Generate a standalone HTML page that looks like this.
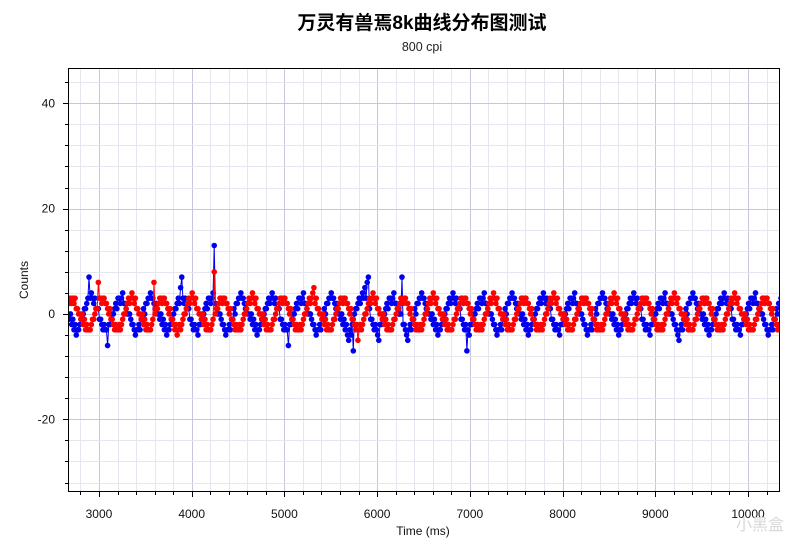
<!DOCTYPE html>
<html><head><meta charset="utf-8"><style>
body{margin:0;background:#fff;}
svg{display:block;font-family:"Liberation Sans","Noto Sans CJK SC",sans-serif;}
</style></head><body>
<svg id="chart" width="800" height="553" viewBox="0 0 800 553" xmlns="http://www.w3.org/2000/svg">
<rect x="0" y="0" width="800" height="553" fill="#fff"/>
<text x="422" y="29" text-anchor="middle" font-size="19" font-weight="bold" fill="#000">万灵有兽焉8k曲线分布图测试</text>
<text x="422" y="51" text-anchor="middle" font-size="12.5" fill="#222">800 cpi</text>
<g id="grid"></g>
<g id="series"></g>
<rect x="68.5" y="68.5" width="711" height="423" fill="none" stroke="#000" stroke-width="1"/>
<g id="axes"></g>
<text x="423" y="535" text-anchor="middle" font-size="12" fill="#111">Time (ms)</text>
<text transform="translate(28,280) rotate(-90)" text-anchor="middle" font-size="12" fill="#111">Counts</text>
<text x="760" y="530" text-anchor="middle" font-size="16" fill="#d8d8d8">小黑盒</text>
</svg>
<script>
const xTicks = [3000,4000,5000,6000,7000,8000,9000,10000];
const yTicks = [-20,0,20,40];
const startTime = 2668;
const stepMs = 12.5;
const blueValues = [
0,-1,0,-2,-1,-3,-2,-4,-3,-3,-2,-1,-1,0,1,1,2,3,7,3,4,3,2,3,1,1,
1,-1,-1,-2,-3,-2,-3,-3,-6,-2,-2,-1,0,0,1,2,1,3,3,2,3,4,2,2,1,0,
0,0,-1,-2,-2,-3,-4,-3,-3,-2,-3,-1,-1,1,0,2,2,3,3,4,3,3,2,1,2,0,
0,-1,0,-2,-1,-3,-2,-4,-3,-3,-2,-1,-1,0,1,1,2,3,2,5,7,3,2,3,1,1,
1,-1,-1,-2,-3,-2,-3,-3,-4,-2,-2,-1,0,0,1,2,1,3,3,2,3,4,13,2,1,0,
0,0,-1,-2,-2,-3,-4,-3,-3,-2,-3,-1,-1,1,0,2,2,3,3,4,3,3,2,1,2,0,
0,-1,0,-2,-1,-3,-2,-4,-3,-3,-2,-1,-1,0,1,1,2,3,2,3,4,3,2,3,1,1,
1,-1,-1,-2,-3,-2,-3,-3,-6,-2,-2,-1,0,0,1,2,1,3,3,2,3,4,2,2,1,0,
0,0,-1,-2,-2,-3,-4,-3,-3,-2,-3,-1,-1,1,0,2,2,3,3,4,3,3,2,1,2,0,
0,-1,0,-2,-1,-3,-2,-4,-5,-3,-4,-2,-7,0,1,1,2,3,2,3,4,3,5,3,6,7,
1,-1,-1,-2,-3,-2,-3,-4,-5,-2,-2,-1,0,0,1,2,1,3,3,2,3,4,2,2,1,0,
0,0,7,-2,-2,-3,-4,-5,-3,-2,-3,-1,-1,1,0,2,2,3,3,4,3,3,2,1,2,0,
0,-1,0,-2,-1,-3,-2,-4,-3,-3,-2,-1,-1,0,1,1,2,3,2,3,4,3,2,3,1,1,
1,-1,-1,-2,-3,-2,-7,-3,-4,-2,-2,-1,0,0,1,2,1,3,3,2,3,4,2,2,1,0,
0,0,-1,-2,-2,-3,-4,-3,-3,-2,-3,-1,-1,1,0,2,2,3,3,4,3,3,2,1,2,0,
0,-1,0,-2,-1,-3,-2,-4,-3,-3,-2,-1,-1,0,1,1,2,3,2,3,4,3,2,3,1,1,
1,-1,-1,-2,-3,-2,-3,-3,-4,-2,-2,-1,0,0,1,2,1,3,3,2,3,4,2,2,1,0,
0,0,-1,-2,-2,-3,-4,-3,-3,-2,-3,-1,-1,1,0,2,2,3,3,4,3,3,2,1,2,0,
0,-1,0,-2,-1,-3,-2,-4,-3,-3,-2,-1,-1,0,1,1,2,3,2,3,4,3,2,3,1,1,
1,-1,-1,-2,-3,-2,-3,-3,-4,-2,-2,-1,0,0,1,2,1,3,3,2,3,4,2,2,1,0,
0,0,-1,-2,-2,-3,-4,-5,-3,-2,-3,-1,-1,1,0,2,2,3,3,4,3,3,2,1,2,0,
0,-1,0,-2,-1,-3,-2,-4,-3,-3,-2,-1,-1,0,1,1,2,3,2,3,4,3,2,3,1,1,
1,-1,-1,-2,-3,-2,-3,-3,-4,-2,-2,-1,0,0,1,2,1,3,3,2,3,4,2,2,1,0,
0,0,-1,-2,-2,-3,-4,-3,-3,-2,-3,-1,-1,1,0,2,2,3,3,4,3,3,2,1,2,0
];
const redValues = [
3,2,3,2,3,2,3,1,1,0,0,-1,0,-2,-1,-3,-2,-3,-3,-3,-2,-1,-1,0,1,1,
6,3,3,2,3,3,2,2,1,0,1,-1,-1,-2,-3,-2,-3,-3,-2,-3,-2,-1,0,0,1,2,
3,2,3,4,3,2,3,1,1,0,0,-1,0,-2,-1,-3,-2,-3,-3,-3,-2,-1,6,0,1,1,
2,3,3,2,3,3,2,2,1,0,1,-1,-1,-2,-3,-2,-4,-3,-2,-3,-2,-1,0,0,1,2,
3,2,3,4,3,2,3,1,1,0,0,-1,0,-2,-1,-3,-2,-3,-3,-3,-2,-1,8,0,1,1,
2,3,3,2,3,3,2,2,1,0,1,-1,-1,-2,-3,-2,-3,-3,-2,-3,-2,-1,0,0,1,2,
3,2,3,4,3,2,3,1,1,0,0,-1,0,-2,-1,-3,-2,-3,-3,-3,-2,-1,-1,0,1,1,
2,3,3,2,3,3,2,2,1,0,1,-1,-1,-2,-3,-2,-3,-3,-2,-3,-2,-1,0,0,1,2,
3,2,3,4,5,2,3,1,1,0,0,-1,0,-2,-1,-3,-2,-3,-3,-3,-2,-1,-1,0,1,1,
2,3,3,2,3,3,2,2,1,0,1,-1,-1,-2,-3,-2,-5,-3,-2,-3,-2,-1,0,0,1,2,
3,2,3,4,3,2,3,1,1,0,0,-1,0,-2,-1,-3,-2,-3,-3,-3,-2,-1,-1,0,1,1,
2,3,3,2,3,3,2,2,1,0,1,-1,-1,-2,-3,-2,-3,-3,-2,-3,-2,-1,0,0,1,2,
3,2,3,4,3,2,3,1,1,0,0,-1,0,-2,-1,-3,-2,-3,-3,-3,-2,-1,-1,0,1,1,
2,3,3,2,3,3,2,2,1,0,1,-1,-1,-2,-3,-2,-3,-3,-2,-3,-2,-1,0,0,1,2,
3,2,3,4,3,2,3,1,1,0,0,-1,0,-2,-1,-3,-2,-3,-3,-3,-2,-1,-1,0,1,1,
2,3,3,2,3,3,2,2,1,0,1,-1,-1,-2,-3,-2,-3,-3,-2,-3,-2,-1,0,0,1,2,
3,2,3,4,3,2,3,1,1,0,0,-1,0,-2,-1,-3,-2,-3,-3,-3,-2,-1,-1,0,1,1,
2,3,3,2,3,3,2,2,1,0,1,-1,-1,-2,-3,-2,-3,-3,-2,-3,-2,-1,0,0,1,2,
3,2,3,4,3,2,3,1,1,0,0,-1,0,-2,-1,-3,-2,-3,-3,-3,-2,-1,-1,0,1,1,
2,3,3,2,3,3,2,2,1,0,1,-1,-1,-2,-3,-2,-3,-3,-2,-3,-2,-1,0,0,1,2,
3,2,3,4,3,2,3,1,1,0,0,-1,0,-2,-1,-3,-2,-3,-3,-3,-2,-1,-1,0,1,1,
2,3,3,2,3,3,2,2,1,0,1,-1,-1,-2,-3,-2,-3,-3,-2,-3,-2,-1,0,0,1,2,
3,2,3,4,3,2,3,1,1,0,0,-1,0,-2,-1,-3,-2,-3,-3,-3,-2,-1,-1,0,1,1,
2,3,3,2,3,3,2,2,1,0,1,-1,-1,-2,-3,-2,-3,-3,-2,-3,-2,-1,0,0,1,2
];
const NS='http://www.w3.org/2000/svg';
const X0=68,X1=780,Y0=68,Y1=492;
const xMin=2666,xMax=10345,yMin=-33.8,yMax=46.7;
function xs(v){return X0+(v-xMin)/(xMax-xMin)*(X1-X0);}
function ys(v){return Y1-(v-yMin)/(yMax-yMin)*(Y1-Y0);}
function mk(tag,attrs,parent){const e=document.createElementNS(NS,tag);for(const k in attrs)e.setAttribute(k,attrs[k]);parent.appendChild(e);return e;}
const grid=document.getElementById('grid'),axes=document.getElementById('axes'),series=document.getElementById('series');
for(let t=2800;t<=xMax;t+=200){const x=Math.round(xs(t))+0.5;const major=t%1000===0;
 const l=mk('line',{x1:x,x2:x,y1:Y0,y2:Y1,stroke:major?'#c6c6de':'#e6e6f0','stroke-width':1},grid);
 
 
 const tk=mk('line',{x1:x,x2:x,y1:Y1,y2:Y1+(major?5:3),stroke:'#000'},axes);
 
 }
for(let v=-32;v<=yMax;v+=4){const y=Math.round(ys(v))+0.5;const major=v%20===0;
 const l=mk('line',{x1:X0,x2:X1,y1:y,y2:y,stroke:major?'#c6c6de':'#e6e6f0','stroke-width':1},grid);
 
 
 const tk=mk('line',{x1:X0-(major?5:3),x2:X0,y1:y,y2:y,stroke:'#000'},axes);
 
 }
xTicks.forEach(t=>{const e=mk('text',{x:xs(t),y:518,'text-anchor':'middle','font-size':12,fill:'#111'},axes);e.textContent=t;
 
 });
yTicks.forEach(v=>{const e=mk('text',{x:55,y:ys(v)+4,'text-anchor':'end','font-size':12,fill:'#111'},axes);e.textContent=v;
 
 });
const clip=mk('clipPath',{id:'pc'},series);mk('rect',{x:X0,y:Y0,width:X1-X0,height:Y1-Y0},clip);
function draw(vals,color,name){
 const g=mk('g',{'clip-path':'url(#pc)'},series);
 
 
 const pts=vals.map((v,i)=>xs(startTime+i*stepMs).toFixed(1)+','+ys(v).toFixed(1)).join(' ');
 const pl=mk('polyline',{points:pts,fill:'none',stroke:color,'stroke-width':1},g);
 
 
 vals.forEach((v,i)=>{const c=mk('circle',{cx:xs(startTime+i*stepMs),cy:ys(v),r:2.8,fill:color},g);
  
  });
}
draw(blueValues,'#0000ee','blue-series');
draw(redValues,'#ff0000','red-series');
</script>
</body></html>
